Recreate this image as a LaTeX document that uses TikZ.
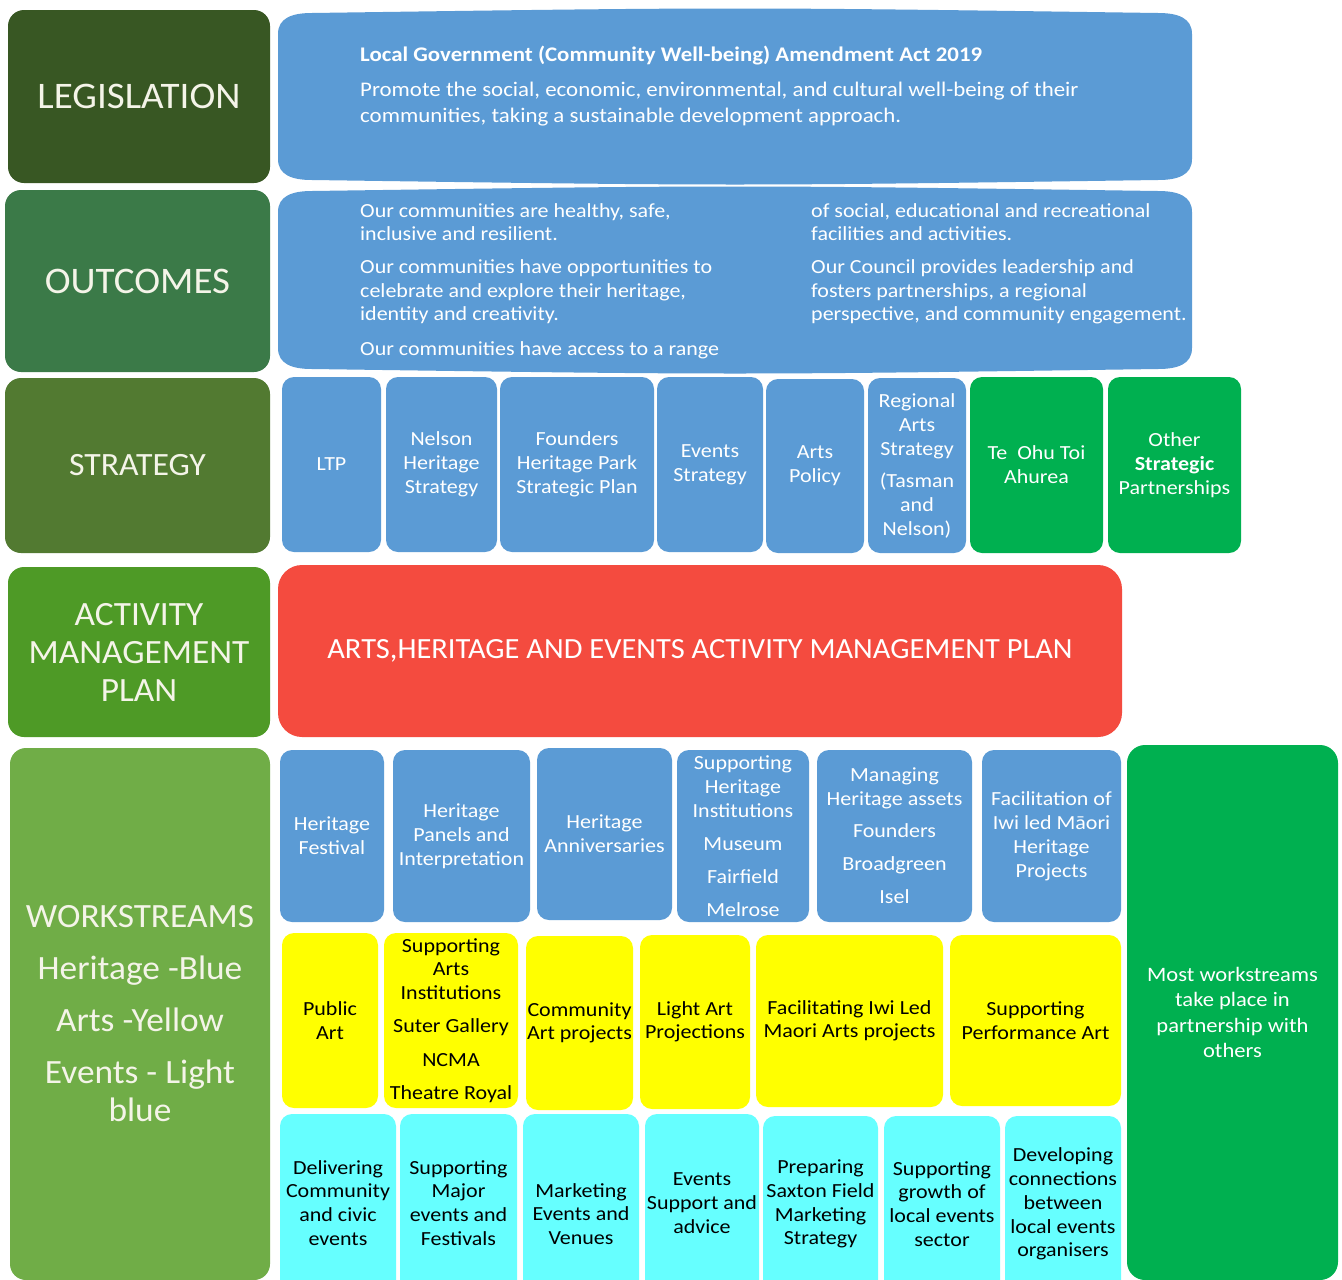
\documentclass[tikz,border=0pt]{standalone}
\usepackage{fontspec}
\setmainfont{Carlito}[FakeStretch=1.1]
\newfontfamily\sidefont{Carlito}[FakeStretch=1.04]
\definecolor{legis}{HTML}{385723}
\definecolor{outc}{HTML}{3B7A48}
\definecolor{strat}{HTML}{527A31}
\definecolor{amp}{HTML}{4E9A26}
\definecolor{works}{HTML}{70AD47}
\definecolor{hblue}{HTML}{5B9BD5}
\definecolor{pgreen}{HTML}{00B050}
\definecolor{ared}{HTML}{F44B3F}
\definecolor{ayel}{HTML}{FFFF00}
\definecolor{ecyan}{HTML}{66FFFF}
\definecolor{cream}{HTML}{F4F4E8}
% place a box from its corner coordinates
\newcommand\bx[7]{%
  \pgfmathsetmacro\bw{#4-#2}\pgfmathsetmacro\bh{#5-#3}%
  \node[#6, minimum width=\bw pt, minimum height=\bh pt] (#1) at ({(#2+#4)/2},{(#3+#5)/2}) {#7};}
% wide banner with slightly bowed top and bottom edges
\newcommand\banner[5]{%
  \pgfmathsetmacro\xm{(#1+#3)/2}%
  \fill[#5] (#1,#2+24) .. controls (#1,#2+8) and (#1+14,#2+3) .. (#1+34,#2+3)
    .. controls (\xm,#2-3) .. (#3-34,#2+3)
    .. controls (#3-14,#2+3) and (#3,#2+8) .. (#3,#2+24)
    -- (#3,#4-24) .. controls (#3,#4-8) and (#3-14,#4-3) .. (#3-34,#4-3)
    .. controls (\xm,#4+3) .. (#1+34,#4-3)
    .. controls (#1+14,#4-3) and (#1,#4-8) .. (#1,#4-24) -- cycle;}
\tikzset{
  cell/.style={inner sep=0pt, outer sep=0pt, align=center, rounded corners=12pt},
  side/.style={cell, rounded corners=16pt, text=cream, font=\sidefont\fontsize{34}{38}\selectfont},
  bluecell/.style={cell, fill=hblue, text=white, font=\fontsize{20}{24}\selectfont},
  greencell/.style={cell, fill=pgreen, text=white, font=\fontsize{20}{24}\selectfont},
  yelcell/.style={cell, fill=ayel, text=black, font=\fontsize{20}{23.5}\selectfont},
  cyancell/.style={cell, fill=ecyan, text=black, font=\fontsize{20}{23.8}\selectfont},
}
\newcommand\gap{\\[9pt]}
\begin{document}
\begin{tikzpicture}[x=1pt,y=-1pt]
\useasboundingbox (0,0) rectangle (1342,1280);
\fill[white] (0,0) rectangle (1342,1280);
% left-hand level labels
\bx{lleg}{8}{10}{270}{183}{side, fill=legis, font=\sidefont\fontsize{37.5}{40}\selectfont}{LEGISLATION}
\bx{lout}{5}{190}{270}{372}{side, fill=outc, font=\sidefont\fontsize{37.5}{40}\selectfont}{OUTCOMES}
\bx{lstr}{5}{378}{270}{553}{side, fill=strat, font=\sidefont\fontsize{32.5}{36}\selectfont}{STRATEGY}
\bx{lamp}{8}{567}{270}{737}{side, fill=amp}{ACTIVITY\\MANAGEMENT\\PLAN}
\bx{lwork}{10}{748}{270}{1280}{side, fill=works}{WORKSTREAMS\\[14pt]Heritage -Blue\\[14pt]Arts -Yellow\\[14pt]Events - Light\\blue}
% legislation and outcomes
\banner{278}{10}{1192}{183}{hblue}
\node[anchor=north west, inner sep=0pt, align=left, text=white, font=\fontsize{20.8}{26}\selectfont] (tleg) at (360,46)
  {\textbf{Local Government (Community Well-being) Amendment Act 2019}\\[9pt]
   Promote the social, economic, environmental, and cultural well-being of their\\
   communities, taking a sustainable development approach.};
\banner{278}{188}{1192}{372}{hblue}
\node[anchor=north west, inner sep=0pt, align=left, text=white, font=\fontsize{20}{23.7}\selectfont] (tout1) at (360,203)
  {Our communities are healthy, safe,\\inclusive and resilient.\gap
   Our communities have opportunities to\\celebrate and explore their heritage,\\identity and creativity.\\[11pt]
   Our communities have access to a range};
\node[anchor=north west, inner sep=0pt, align=left, text=white, font=\fontsize{20}{23.7}\selectfont] (tout2) at (811,203)
  {of social, educational and recreational\\facilities and activities.\gap
   Our Council provides leadership and\\fosters partnerships, a regional\\perspective, and community engagement.};
% strategy row
\bx{s1}{282}{377}{381}{552}{bluecell}{LTP}
\bx{s2}{386}{377}{497}{552}{bluecell}{Nelson\\Heritage\\Strategy}
\bx{s3}{500}{377}{654}{552}{bluecell}{Founders\\Heritage Park\\Strategic Plan}
\bx{s4}{657}{377}{763}{552}{bluecell}{Events\\Strategy}
\bx{s5}{766}{379}{864}{553}{bluecell}{Arts\\Policy}
\bx{s6}{868}{378}{966}{553}{bluecell}{Regional\\Arts\\Strategy\\[8pt](Tasman\\and\\Nelson)}
\bx{s7}{970}{377}{1103}{553}{greencell}{Te~ Ohu Toi\\Ahurea}
\bx{s8}{1108}{377}{1241}{553}{greencell}{Other\\\textbf{Strategic}\\Partnerships}
% activity management plan
\bx{plan}{278}{565}{1122}{737}{cell, fill=ared, rounded corners=24pt, text=white, font=\sidefont\fontsize{29.3}{34}\selectfont}{ARTS,HERITAGE AND EVENTS ACTIVITY MANAGEMENT PLAN}
% partnership column
\bx{part}{1127}{745}{1338}{1280}{greencell, rounded corners=18pt, font=\fontsize{20.5}{25.5}\selectfont}{Most workstreams\\take place in\\partnership with\\others}
% heritage workstreams
\bx{h1}{280}{750}{384}{922}{bluecell}{Heritage\\Festival}
\bx{h2}{393}{750}{530}{922}{bluecell}{Heritage\\Panels and\\Interpretation}
\bx{h3}{537}{748}{672}{920}{bluecell}{Heritage\\Anniversaries}
\bx{h4}{677}{750}{809}{922}{bluecell}{Supporting\\Heritage\\Institutions\\[9pt]Museum\\[9pt]Fairfield\\[9pt]Melrose}
\bx{h5}{817}{750}{972}{922}{bluecell}{Managing\\Heritage assets\\[8pt]Founders\\[9pt]Broadgreen\\[9pt]Isel}
\bx{h6}{982}{750}{1121}{922}{bluecell}{Facilitation of\\Iwi led Māori\\Heritage\\Projects}
% arts workstreams
\bx{a1}{282}{933}{378}{1108}{yelcell}{Public\\Art}
\bx{a2}{384}{933}{518}{1108}{yelcell}{Supporting\\Arts\\Institutions\\[10pt]Suter Gallery\\[10pt]NCMA\\[10pt]Theatre Royal}
\bx{a3}{526}{936}{633}{1110}{yelcell}{Community\\Art projects}
\bx{a4}{640}{935}{750}{1109}{yelcell}{Light Art\\Projections}
\bx{a5}{756}{935}{943}{1107}{yelcell}{Facilitating Iwi Led\\Maori Arts projects}
\bx{a6}{950}{935}{1121}{1106}{yelcell}{Supporting\\Performance Art}
% events workstreams (running off the lower edge)
\bx{e1}{280}{1114}{396}{1292}{cyancell}{Delivering\\Community\\and civic\\events}
\bx{e2}{400}{1114}{517}{1292}{cyancell}{Supporting\\Major\\events and\\Festivals}
\bx{e3}{523}{1114}{639}{1314}{cyancell}{Marketing\\Events and\\Venues}
\bx{e4}{645}{1114}{759}{1292}{cyancell}{Events\\Support and\\advice}
\bx{e5}{763}{1116}{878}{1292}{cyancell}{Preparing\\Saxton Field\\Marketing\\Strategy}
\bx{e6}{884}{1116}{1000}{1292}{cyancell}{Supporting\\growth of\\local events\\sector}
\bx{e7}{1005}{1116}{1121}{1292}{cyancell}{Developing\\connections\\between\\local events\\organisers}
\end{tikzpicture}
\end{document}
